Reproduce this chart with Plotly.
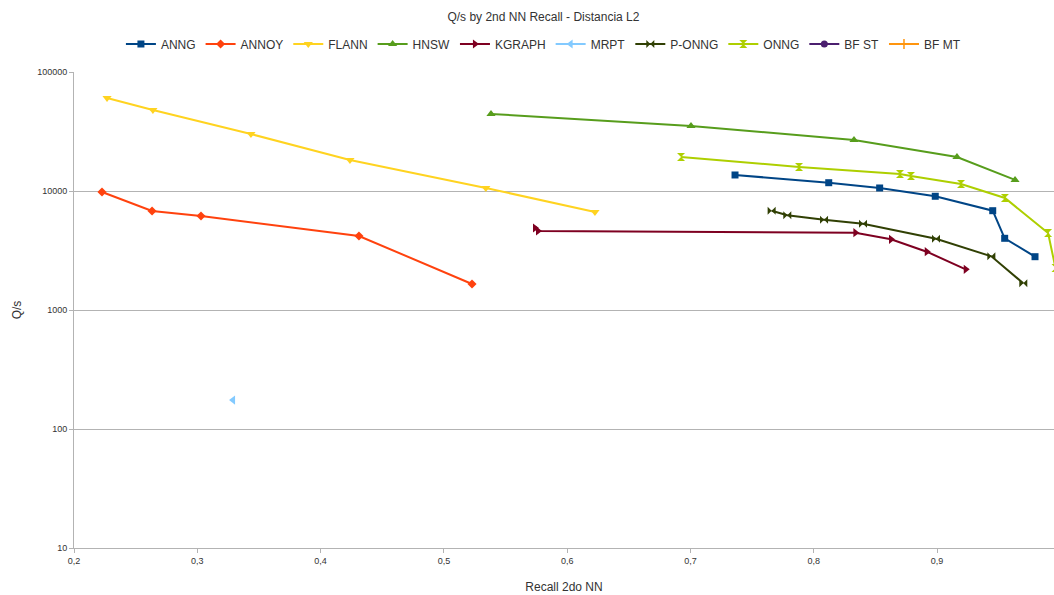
import plotly.graph_objects as go

# ---- data ----
anng_x = [0.7361, 0.8121, 0.8534, 0.8985, 0.9451, 0.9548, 0.9794]
anng_y = [13630, 11740, 10600, 9030, 6830, 4004, 2805]

annoy_x = [0.2227, 0.2633, 0.3030, 0.4311, 0.5228]
annoy_y = [9800, 6790, 6170, 4190, 1654]

flann_x = [0.2268, 0.2640, 0.3435, 0.4238, 0.5340, 0.6225]
flann_y = [60470, 48000, 30100, 18200, 10600, 6660]

hnsw_x = [0.5382, 0.7004, 0.8326, 0.9161, 0.9632]
hnsw_y = [44400, 35200, 26800, 19300, 12400]

kgraph_x = [0.5739, 0.5763, 0.8337, 0.8626, 0.8916, 0.9232]
kgraph_y = [4887, 4616, 4463, 3927, 3090, 2198]

mrpt_x = [0.3290]
mrpt_y = [175]

ponng_x = [0.7658, 0.7785, 0.8083, 0.8399, 0.8991, 0.9440, 0.9699]
ponng_y = [6830, 6250, 5740, 5310, 3970, 2827, 1676]

onng_x = [0.6923, 0.7880, 0.8699, 0.8788, 0.9194, 0.9550, 0.9900, 0.9960]
onng_y = [19310, 15910, 13900, 13370, 11450, 8730, 4440, 2254]

bfst_x = [None]
bfst_y = [None]
bfmt_x = [None]
bfmt_y = [None]

x_tickvals = [0.2, 0.3, 0.4, 0.5, 0.6, 0.7, 0.8, 0.9]
x_ticktext = ["0,2", "0,3", "0,4", "0,5", "0,6", "0,7", "0,8", "0,9"]
y_tickvals = [10, 100, 1000, 10000, 100000]
y_ticktext = ["10", "100", "1000", "10000", "100000"]

series = [
    ("ANNG", anng_x, anng_y, "#004586", "square", 7),
    ("ANNOY", annoy_x, annoy_y, "#ff420e", "diamond", 7),
    ("FLANN", flann_x, flann_y, "#ffd320", "triangle-down", 8),
    ("HNSW", hnsw_x, hnsw_y, "#579d1c", "triangle-up", 8),
    ("KGRAPH", kgraph_x, kgraph_y, "#7e0021", "triangle-right", 8),
    ("MRPT", mrpt_x, mrpt_y, "#83caff", "triangle-left", 8),
    ("P-ONNG", ponng_x, ponng_y, "#314004", "bowtie", 8),
    ("ONNG", onng_x, onng_y, "#aecf00", "hourglass", 8),
    ("BF ST", bfst_x, bfst_y, "#4b1f6f", "circle", 7),
    ("BF MT", bfmt_x, bfmt_y, "#ff950e", "cross-thin", 7),
]

fig = go.Figure()
for name, xs, ys, color, sym, sz in series:
    fig.add_trace(go.Scatter(
        x=xs, y=ys, name=name, mode="lines+markers",
        line=dict(color=color, width=2),
        marker=dict(symbol=sym, size=sz, color=color,
                    line=dict(color=color, width=1.5 if sym == "cross-thin" else 0)),
        cliponaxis=True,
    ))

FONT = "Liberation Sans, Arial, sans-serif"
fig.update_layout(
    width=1054, height=595,
    paper_bgcolor="white", plot_bgcolor="white",
    margin=dict(l=74, r=0, t=72, b=47, autoexpand=False),
    font=dict(family=FONT, color="#333333"),
    title=dict(text="Q/s by 2nd NN Recall - Distancia L2", x=0.479, xanchor="center",
               xref="paper", yref="container",
               y=1 - 13 / 595, yanchor="top", font=dict(size=12, family=FONT, color="#333333")),
    legend=dict(orientation="h", x=0.479, xanchor="center", y=1 + 28 / 476, yanchor="middle",
                font=dict(size=12, family=FONT, color="#333333"),
                tracegroupgap=0, bgcolor="rgba(0,0,0,0)"),
    showlegend=True,
)
fig.update_xaxes(
    range=[0.2, 0.9948], tickvals=x_tickvals, ticktext=x_ticktext, automargin=False,
    showgrid=False, zeroline=False, showline=True, linecolor="#b3b3b3", linewidth=1,
    ticks="outside", ticklen=4, tickcolor="#b3b3b3",
    tickfont=dict(size=9, family=FONT, color="#333333"),
    title=dict(text="Recall 2do NN", font=dict(size=12, family=FONT, color="#333333"), standoff=17),
)
fig.update_yaxes(
    type="log", range=[1, 5], tickvals=y_tickvals, ticktext=y_ticktext, automargin=False,
    showgrid=True, gridcolor="#b3b3b3", gridwidth=1, zeroline=False,
    showline=True, linecolor="#b3b3b3", linewidth=1,
    ticks="outside", ticklen=4, tickcolor="#b3b3b3",
    tickfont=dict(size=9, family=FONT, color="#333333"),
    title=dict(text="Q/s", font=dict(size=12, family=FONT, color="#333333"), standoff=12),
)

fig.write_html("out.html", config={"displayModeBar": False},
               post_script="document.body.style.margin='0';document.body.style.overflow='hidden';")
